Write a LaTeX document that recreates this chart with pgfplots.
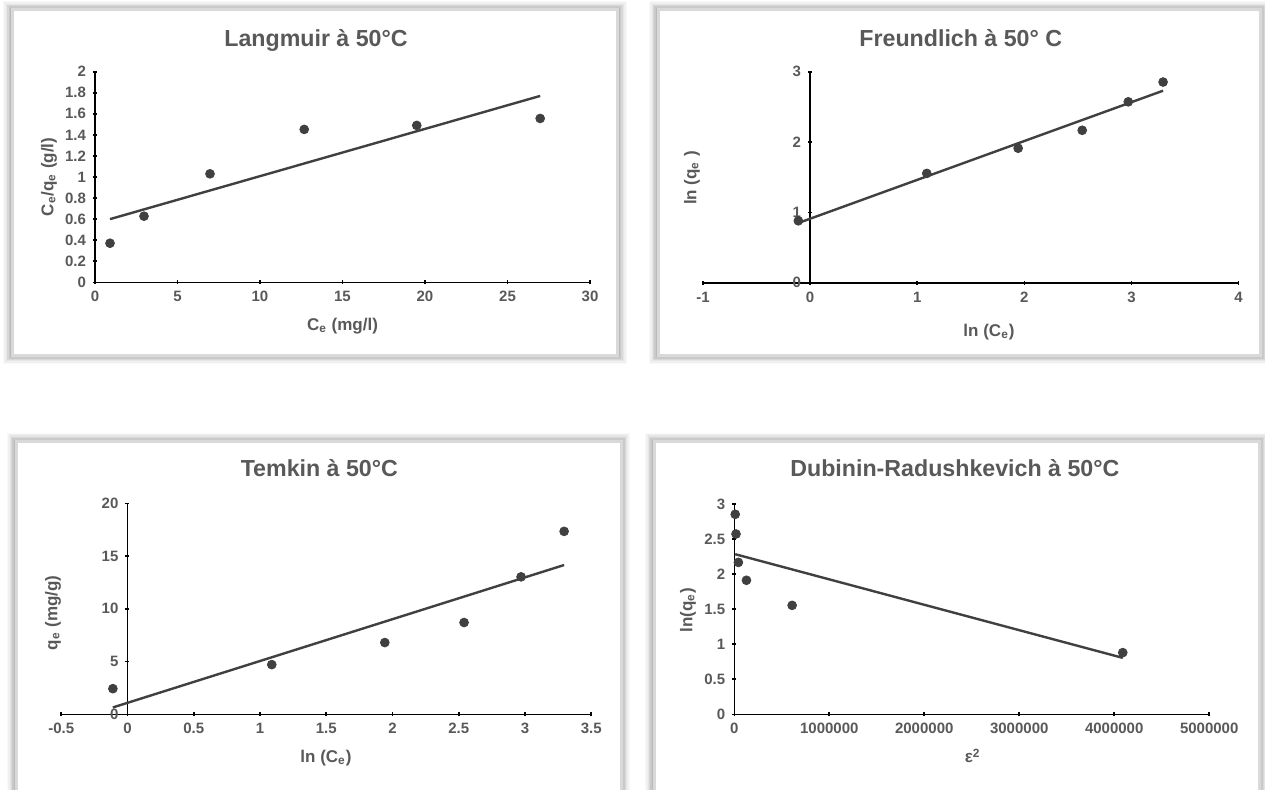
\documentclass[border=0pt]{standalone}
\usepackage{pgfplots}
\pgfplotsset{compat=1.18}
\usepackage{fontspec}
\setmainfont{Liberation Sans}
\definecolor{txt}{HTML}{595959}
\definecolor{dat}{HTML}{404040}
\definecolor{frm}{HTML}{D9D9D9}

\newcommand\panel[4]{%
  \foreach \d/\o in {4.6/0.025,3.9/0.035,3.2/0.045,2.5/0.055,1.8/0.065,1.1/0.075}{%
    \fill[black,opacity=\o] ({#1-\d},{#2-\d}) rectangle ({#3+\d},{#4+\d});}
  \fill[white] (#1,#2) rectangle (#3,#4);
  \draw[frm, line width=1.5pt] (#1,#2) rectangle (#3,#4);
}
\newcommand\labfont{\fontsize{8.5}{10}\selectfont\bfseries}

\pgfplotsset{
  myax/.style={
    scale only axis, anchor=south west, clip=false,
    tick style={draw=black, line width=0.8pt},
    tick align=outside, major tick length=2pt,
    hide obscured x ticks=false, hide obscured y ticks=false,
    /pgf/number format/assume math mode=true,
    every axis title shift=0pt,
    ticklabel style={font=\fontsize{7.5}{8}\selectfont\bfseries, text=txt},
    title style={font=\fontsize{11.6}{13}\selectfont\bfseries, text=txt, anchor=base},
    label style={font=\labfont, text=txt},
    xlabel style={anchor=base},
    ylabel style={anchor=center},
  },
  noarrow/.style={
    axis line style={-, draw=black, line width=0.8pt},
    every inner x axis line/.append style={-},
    every inner y axis line/.append style={-},
    every outer x axis line/.append style={-},
    every outer y axis line/.append style={-},
  },
  ylab/.style 2 args={every axis y label/.style={at={(axis description cs:#1,#2)}, anchor=center, rotate=90, font=\labfont, text=txt}},
  pts/.style={only marks, mark=*, mark size=2.2pt, color=dat},
  fit/.style={no marks, color=dat, line width=1.2pt},
}

\begin{document}
\begin{tikzpicture}[x=1pt,y=1pt]
\fill[white] (0,0) rectangle (632.5,394.5);
\panel{6.1}{217}{308.85}{389.5}
\panel{329}{217}{630}{389.5}
\panel{8}{-10}{310.5}{173.65}
\panel{327}{-10}{629.5}{173.65}

% Langmuir
\begin{axis}[myax, at={(47.5pt,253.35pt)}, width=247.5pt, height=105.3pt,
  axis x line=bottom, axis y line=left, noarrow,
  xmin=0, xmax=30, ymin=0, ymax=2,
  xtick={0,5,10,15,20,25,30},
  ytick={0,0.2,0.4,0.6,0.8,1,1.2,1.4,1.6,1.8,2},
  title={Langmuir à 50°C}, title style={at={(axis description cs:0.4465,1.122)}},
  xlabel={C\textsubscript{e} (mg/l)}, xlabel style={at={(axis description cs:0.5,-0.23)}},
  ylabel={C\textsubscript{e}/q\textsubscript{e} (g/l)}, ylab={-0.093}{0.5},
]
\addplot[fit] coordinates {(0.91,0.60) (26.98,1.77)};
\addplot[pts] coordinates {(0.91,0.371) (2.97,0.628) (6.97,1.03) (12.68,1.452) (19.5,1.49) (26.98,1.556)};
\end{axis}

% Freundlich
\begin{axis}[myax, at={(351.5pt,253.15pt)}, width=267.8pt, height=105.5pt,
  axis x line=bottom, axis y line=middle, noarrow,
  xmin=-1, xmax=4, ymin=0, ymax=3,
  xtick={-1,0,1,2,3,4}, ytick={0,1,2,3},
  title={Freundlich à 50° C}, title style={at={(axis description cs:0.4813,1.1218)}},
  xlabel={ln (C\textsubscript{e})}, xlabel style={at={(axis description cs:0.534,-0.257)}},
  ylabel={ln (q\textsubscript{e} )}, ylab={-0.0205}{0.496},
]
\addplot[fit] coordinates {(-0.11,0.849) (3.295,2.730)};
\addplot[pts] coordinates {(-0.11,0.88) (1.089,1.554) (1.942,1.912) (2.540,2.167) (2.970,2.572) (3.295,2.853)};
\end{axis}

% Temkin
\begin{axis}[myax, at={(30.6pt,37.35pt)}, width=265.05pt, height=105.5pt,
  axis x line=bottom, axis y line=middle, noarrow,
  xmin=-0.5, xmax=3.5, ymin=0, ymax=20,
  xtick={-0.5,0,0.5,1,1.5,2,2.5,3,3.5}, ytick={0,5,10,15,20},
  title={Temkin à 50°C}, title style={at={(axis description cs:0.487,1.126)}},
  xlabel={ln (C\textsubscript{e})}, xlabel style={at={(axis description cs:0.4995,-0.229)}},
  ylabel={q\textsubscript{e} (mg/g)}, ylab={-0.0155}{0.48},
]
\addplot[fit] coordinates {(-0.11,0.65) (3.295,14.15)};
\addplot[pts] coordinates {(-0.11,2.43) (1.089,4.71) (1.942,6.80) (2.540,8.70) (2.970,13.03) (3.295,17.34)};
\end{axis}

% Dubinin-Radushkevich
\begin{axis}[myax, at={(367.15pt,37.35pt)}, width=237.45pt, height=105.15pt,
  axis x line=bottom, axis y line=left, noarrow,
  xmin=0, xmax=5000000, ymin=0, ymax=3,
  xtick={0,1000000,2000000,3000000,4000000,5000000},
  ytick={0,0.5,1,1.5,2,2.5,3},
  scaled x ticks=false,
  xticklabel style={/pgf/number format/fixed, /pgf/number format/1000 sep={}},
  title={Dubinin-Radushkevich à 50°C}, title style={at={(axis description cs:0.4645,1.13)}},
  xlabel={ε\textsuperscript{2}}, xlabel style={at={(axis description cs:0.502,-0.23)}},
  ylabel={ln(q\textsubscript{e})}, ylab={-0.0977}{0.496},
]
\addplot[fit] coordinates {(9500,2.284) (4090000,0.805)};
\addplot[pts] coordinates {(9500,2.853) (18000,2.572) (43000,2.167) (128000,1.912) (609000,1.554) (4090000,0.88)};
\end{axis}

\pgfresetboundingbox
\useasboundingbox (0,0) rectangle (632.5,394.5);
\end{tikzpicture}
\end{document}
